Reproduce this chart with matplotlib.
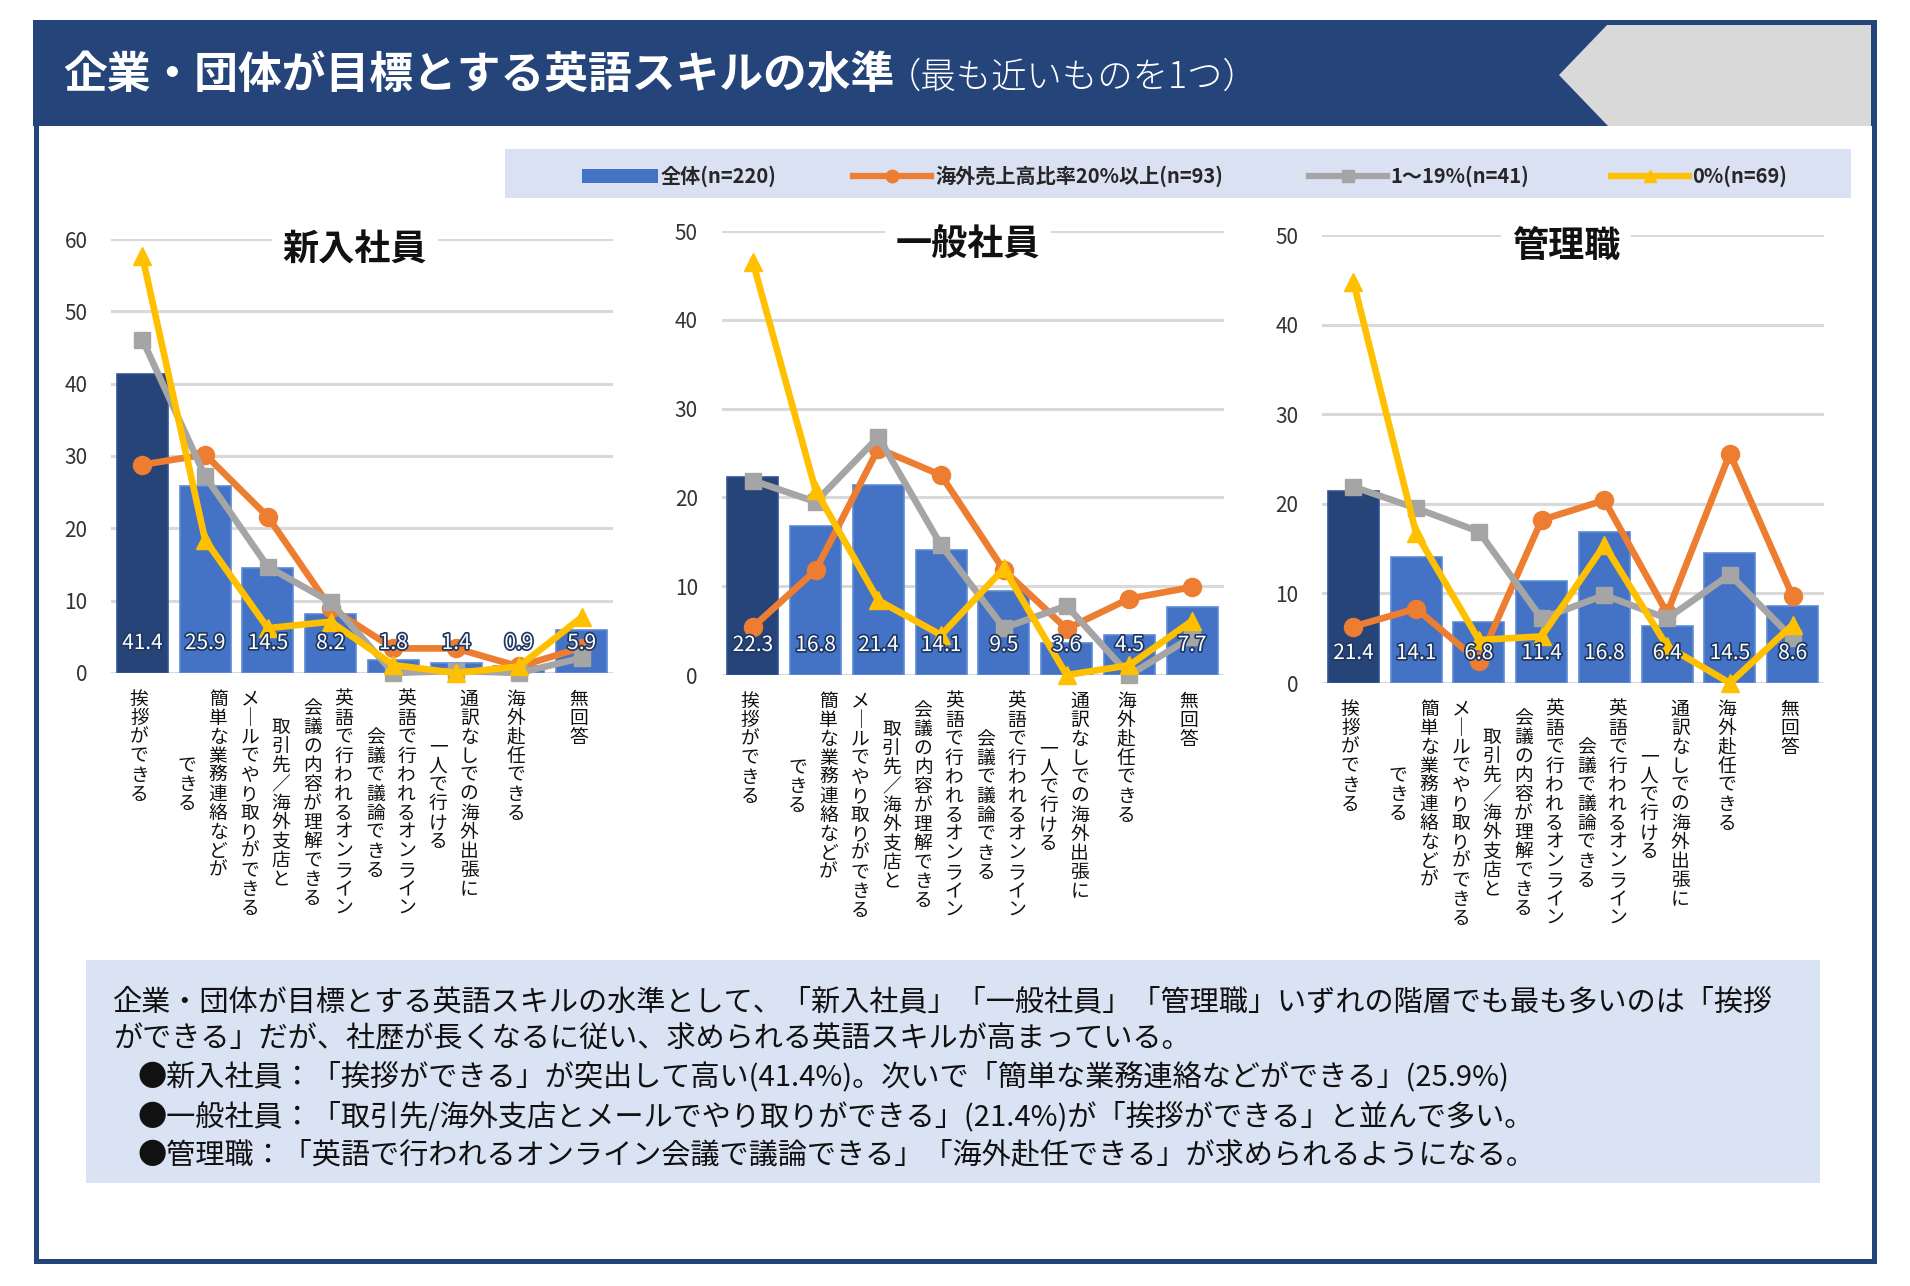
import matplotlib
matplotlib.use('Agg')
import matplotlib.pyplot as plt
import matplotlib.patheffects as pe
from matplotlib.patches import Rectangle, Polygon
from matplotlib.lines import Line2D

plt.rcParams['font.family'] = ['Noto Sans CJK JP', 'DejaVu Sans']

# ---- data ----
categories = ['挨拶ができる',
              '簡単な業務連絡などが\nできる',
              '取引先／海外支店と\nメールでやり取りができる',
              '英語で行われるオンライン\n会議の内容が理解できる',
              '英語で行われるオンライン\n会議で議論できる',
              '通訳なしでの海外出張に\n一人で行ける',
              '海外赴任できる',
              '無回答']
panel_titles = ['新入社員', '一般社員', '管理職']
series_names = ['全体(n=220)', '海外売上高比率20%以上(n=93)', '1～19%(n=41)', '0%(n=69)']

total = [[41.4, 25.9, 14.5, 8.2, 1.8, 1.4, 0.9, 5.9],
         [22.3, 16.8, 21.4, 14.1, 9.5, 3.6, 4.5, 7.7],
         [21.4, 14.1, 6.8, 11.4, 16.8, 6.4, 14.5, 8.6]]
over20 = [[28.8, 30.2, 21.6, 9.0, 3.4, 3.4, 0.9, 3.5],
          [5.4, 11.8, 25.5, 22.5, 11.8, 5.2, 8.6, 9.9],
          [6.3, 8.3, 2.4, 18.2, 20.4, 7.8, 25.6, 9.7]]
mid = [[46.1, 27.2, 14.7, 9.8, 0.0, 0.3, 0.0, 2.1],
       [21.9, 19.5, 26.8, 14.6, 5.3, 7.8, 0.0, 4.3],
       [21.9, 19.5, 16.9, 7.2, 9.8, 7.2, 12.1, 5.0]]
zero = [[57.6, 18.4, 6.2, 7.1, 1.1, 0.0, 0.9, 7.7],
        [46.5, 20.8, 8.4, 4.5, 12.0, 0.0, 1.1, 6.1],
        [44.8, 16.7, 4.8, 5.2, 15.4, 4.1, 0.0, 6.5]]
ymax = [60, 50, 50]

summary = ['企業・団体が目標とする英語スキルの水準として、「新入社員」「一般社員」「管理職」いずれの階層でも最も多いのは「挨拶',
           'ができる」だが、社歴が長くなるに従い、求められる英語スキルが高まっている。',
           '●新入社員：「挨拶ができる」が突出して高い(41.4%)。次いで「簡単な業務連絡などができる」(25.9%)',
           '●一般社員：「取引先/海外支店とメールでやり取りができる」(21.4%)が「挨拶ができる」と並んで多い。',
           '●管理職：「英語で行われるオンライン会議で議論できる」「海外赴任できる」が求められるようになる。']

# ---- style ----
NAVY = '#24447A'
BAR = '#4472C4'
BAR0 = '#264478'
ORANGE = '#ED7D31'
GRAY = '#A5A5A5'
YELLOW = '#FFC000'

W, H = 1910, 1286
fig = plt.figure(figsize=(W / 100, H / 100), dpi=100)
fig.patch.set_facecolor('white')


def fx(px):
    return px / W


def fy(py):
    return 1 - py / H


# header band + frame
fig.add_artist(Rectangle((fx(33), fy(126)), (1876 - 33) / W, (126 - 20) / H,
                         transform=fig.transFigure, fc=NAVY, ec='none', zorder=0))
notch = [(1608, 24), (1871, 24), (1871, 126), (1608, 126), (1559, 75)]
fig.add_artist(Polygon([(fx(a), fy(b)) for a, b in notch], closed=True,
                       transform=fig.transFigure, fc='#D9D9D9', ec='none', zorder=1))
fig.add_artist(Rectangle((fx(35.5), fy(1260.5)), (1873.5 - 35.5) / W, (1260.5 - 22) / H,
                         transform=fig.transFigure, fc='none', ec=NAVY, lw=3.6, zorder=1))
fig.text(fx(63), fy(75), '企業・団体が目標とする英語スキルの水準', color='white',
         fontsize=31.5, fontweight='bold', va='center', ha='left')
fig.text(fx(886), fy(77), '（最も近いものを1つ）', color='white',
         fontsize=25.5, fontweight='light', va='center', ha='left')

# legend box
fig.add_artist(Rectangle((fx(505), fy(198)), (1851 - 505) / W, (198 - 149) / H,
                         transform=fig.transFigure, fc='#D9E1F2', ec='none', zorder=0))
ly = fy(176)
fig.add_artist(Rectangle((fx(582), ly - 7 / H), 76 / W, 14 / H,
                         transform=fig.transFigure, fc=BAR, ec='none'))
leg_keys = [(853, ORANGE, 'o'), (1309, GRAY, 's'), (1611, YELLOW, '^')]
for x0, c, m in leg_keys:
    fig.add_artist(Line2D([fx(x0), fx(x0 + 78)], [ly, ly], color=c, lw=4.5,
                          transform=fig.transFigure))
    fig.add_artist(Line2D([fx(x0 + 39)], [ly], color=c, marker=m, markersize=9,
                          transform=fig.transFigure))
for x0, name in zip([661, 935, 1390, 1692], series_names):
    fig.text(fx(x0), ly, name, fontsize=14.5, fontweight='bold', va='center',
             ha='left', color='#262626')

# summary box
fig.add_artist(Rectangle((fx(86), fy(1183)), (1820 - 86) / W, (1183 - 960) / H,
                         transform=fig.transFigure, fc='#DAE3F3', ec='none', zorder=0))
line_y = [1002, 1039, 1077, 1117, 1155]
line_x = [113, 113, 137, 137, 137]
for s, x0, y0 in zip(summary, line_x, line_y):
    fig.text(fx(x0), fy(y0), s, fontsize=21, va='center', ha='left', color='#111111')

# ---- panels ----
rects = [(111, 613, 239, 673), (721.5, 1223.5, 231, 675), (1322, 1824, 235, 683)]
title_pos = [(355, 250), (968, 245), (1566, 247)]
pitch = 13.7   # points per character in vertical labels
top_gap = 12


def vertical_label(ax, i, label):
    lines = label.split('\n')
    n = max(len(l) for l in lines)
    offs = [-2.2] if len(lines) == 1 else [9.4, -13.0]
    for line, dx in zip(lines, offs):
        start = (n - len(line)) / 2 * pitch
        for k, ch in enumerate(line.replace('ー', '｜')):
            ax.annotate(ch, xy=(i, 0), xycoords=('data', 'axes fraction'),
                        xytext=(dx, -(top_gap + start + (k + 0.5) * pitch)),
                        textcoords='offset points', ha='center', va='center',
                        fontsize=13.5, color='#111111', annotation_clip=False)


x = list(range(len(categories)))
for p in range(3):
    l, r, t, b = rects[p]
    ax = fig.add_axes([fx(l), fy(b), (r - l) / W, (b - t) / H])
    ax.set_xlim(-0.5, len(categories) - 0.5)
    ax.set_ylim(0, ymax[p])
    ax.set_yticks(range(0, ymax[p] + 1, 10))
    ax.set_xticks([])
    ax.tick_params(axis='y', length=0, pad=17, labelsize=15, labelcolor='#333333')
    for sp in ax.spines.values():
        sp.set_visible(False)
    ax.grid(axis='y', color='#D9D9D9', lw=2.2)
    ax.set_axisbelow(True)
    ax.patch.set_alpha(0)

    colors = [BAR0] + [BAR] * (len(categories) - 1)
    edges = ['#2F5597'] + ['#5B8BD6'] * (len(categories) - 1)
    ax.bar(x, total[p], width=0.81, color=colors, edgecolor=edges, lw=1.2, zorder=2)
    ax.plot(x, over20[p], color=ORANGE, lw=4.8, marker='o', markersize=13,
            clip_on=False, zorder=3)
    ax.plot(x, mid[p], color=GRAY, lw=4.8, marker='s', markersize=12,
            clip_on=False, zorder=4)
    ax.plot(x, zero[p], color=YELLOW, lw=4.8, marker='^', markersize=13,
            clip_on=False, zorder=5)

    for i, v in enumerate(total[p]):
        ax.annotate(f'{v:.1f}', xy=(i, 0), xytext=(0, 21.6), textcoords='offset points',
                    ha='center', va='center', fontsize=15, color='white', zorder=10,
                    path_effects=[pe.withStroke(linewidth=2.5, foreground='#1F3864')])

    for i, lab in enumerate(categories):
        vertical_label(ax, i, lab)

    tx, ty = title_pos[p]
    fig.text(fx(tx), fy(ty), panel_titles[p], fontsize=26, fontweight='bold',
             ha='center', va='center', color='#111111', zorder=20,
             bbox=dict(fc='white', ec='none', pad=8))

fig.savefig('out.png', dpi=100, facecolor='white')
